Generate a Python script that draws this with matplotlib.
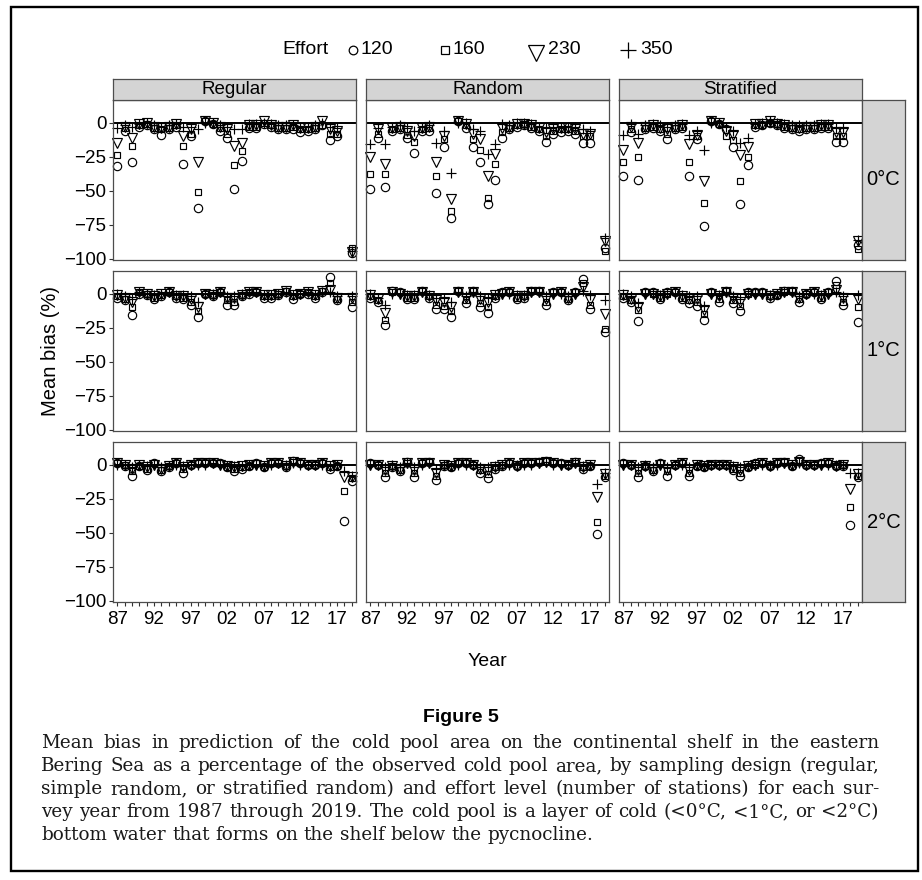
import numpy as np
import matplotlib
matplotlib.use('Agg')
import matplotlib.pyplot as plt
from matplotlib.lines import Line2D
from matplotlib.patches import Rectangle

nan = float('nan')
years = list(range(1987, 2020))
designs = ['Regular', 'Random', 'Stratified']
temps = ['0°C', '1°C', '2°C']
efforts = ['120', '160', '230', '350']
xtick_years = [1987, 1992, 1997, 2002, 2007, 2012, 2017]
xtick_labels = ['87', '92', '97', '02', '07', '12', '17']
ytick_values = [0, -25, -50, -75, -100]
ytick_labels = ['0', '−25', '−50', '−75', '−100']

# ---- 0°C ----
c0_regular_120 = [-32, -6, -29, -3, -2, -5, -9, -5, -3, -30, -10, -63, 1, -1, -6, -11, -49, -28, -4, -4, -1, -3, -5, -5, -5, -7, -6, -5, -2, -13, -10, nan, -96]
c0_regular_160 = [-24, -4, -17, -2, -1, -4, -5, -4, -2, -17, -8, -51, 1, -1, -4, -8, -31, -21, -3, -3, 0, -2, -4, -4, -3, -5, -5, -4, -2, -8, -8, nan, -92]
c0_regular_230 = [-15, -3, -11, -1, 0, -3, -4, -3, -1, -10, -5, -29, 1, 0, -3, -5, -17, -15, -2, -2, 1, -2, -3, -3, -2, -4, -4, -3, 1, -5, -6, nan, -95]
c0_regular_350 = [-4, -2, -3, -1, 0, -2, -3, -2, -1, -3, -3, -5, 0, 0, -2, -3, -5, -5, -1, -1, 0, -1, -2, -2, -2, -3, -3, -2, 0, -3, -4, nan, -94]

c0_random_120 = [-49, -11, -47, -6, -5, -11, -22, -6, -6, -52, -18, -70, 1, -4, -18, -29, -60, -42, -11, -5, -3, -2, -4, -6, -14, -8, -7, -6, -8, -15, -15, nan, -92]
c0_random_160 = [-38, -8, -38, -5, -4, -9, -14, -5, -4, -39, -12, -65, 1, -2, -12, -20, -55, -30, -7, -4, -2, -1, -3, -5, -10, -6, -5, -5, -6, -10, -10, nan, -94]
c0_random_230 = [-25, -5, -30, -4, -3, -6, -10, -4, -3, -29, -10, -56, 1, -1, -8, -12, -39, -23, -4, -3, -1, -1, -2, -4, -7, -5, -4, -4, -5, -8, -8, nan, -87]
c0_random_350 = [-16, -4, -16, -3, -2, -4, -6, -3, -2, -15, -6, -37, 0, 0, -5, -6, -23, -16, -1, -2, 0, 0, -1, -3, -4, -3, -3, -3, -3, -5, -6, nan, -85]

c0_stratified_120 = [-39, -7, -42, -5, -4, -6, -12, -5, -4, -39, -12, -76, 1, -1, -5, -18, -60, -31, -3, -2, 0, -2, -4, -5, -6, -5, -5, -4, -4, -14, -14, nan, -90]
c0_stratified_160 = [-29, -5, -25, -4, -3, -5, -8, -4, -3, -29, -10, -59, 1, -1, -10, -13, -43, -25, -2, -2, 0, -1, -3, -4, -5, -4, -4, -3, -3, -10, -10, nan, -93]
c0_stratified_230 = [-20, -3, -15, -3, -2, -4, -5, -3, -2, -16, -9, -43, 1, 0, -6, -9, -24, -18, -1, -1, 1, -1, -2, -3, -4, -3, -3, -2, -2, -7, -7, nan, -87]
c0_stratified_350 = [-9, -1, -8, -2, -1, -2, -3, -2, -1, -9, -6, -20, 0, 0, -3, -6, -15, -11, -1, 0, 1, 0, -1, -2, -2, -2, -2, -1, -1, -4, -4, nan, -86]

# ---- 1°C ----
c1_regular_120 = [-3, -5, -16, 0, -1, -4, -2, 1, -3, -4, -8, -17, 0, -2, 1, -8, -8, -2, 0, 1, -3, -3, -1, 1, -4, 0, 0, -3, 1, 12, -5, nan, -10]
c1_regular_160 = [-2, -4, -10, 1, 0, -3, -1, 1, -2, -3, -6, -13, 0, -1, 1, -5, -6, -1, 1, 1, -2, -2, 0, 2, -2, 0, 1, -2, 2, 8, -4, nan, -6]
c1_regular_230 = [-1, -3, -6, 1, 0, -2, 0, 1, -2, -2, -4, -10, 0, -1, 1, -3, -3, -1, 1, 1, -1, -1, 0, 2, -1, 0, 1, -1, 2, 3, -3, nan, -3]
c1_regular_350 = [0, -2, -4, 1, 0, -1, 0, 1, -1, -1, -2, -6, 0, 0, 1, -2, -2, 0, 1, 1, -1, -1, 0, 1, -1, 0, 1, -1, 1, 1, -2, nan, -2]

c1_random_120 = [-3, -6, -23, 2, 1, -4, -4, 2, -3, -11, -11, -17, 2, -7, 2, -10, -14, -3, 1, 1, -4, -3, 2, 2, -8, 1, 1, -5, 1, 11, -11, nan, -28]
c1_random_160 = [-2, -5, -19, 1, 1, -3, -3, 2, -2, -8, -9, -13, 2, -5, 2, -7, -10, -2, 1, 1, -3, -2, 2, 2, -6, 1, 1, -4, 1, 8, -8, nan, -26]
c1_random_230 = [-1, -4, -14, 1, 0, -2, -2, 1, -2, -5, -6, -10, 1, -3, 1, -4, -6, -1, 0, 1, -2, -2, 1, 1, -4, 0, 1, -3, 0, 5, -5, nan, -15]
c1_random_350 = [0, -3, -8, 0, 0, -1, -1, 1, -1, -3, -3, -6, 1, -2, 1, -2, -3, -1, 0, 0, -1, -1, 1, 1, -2, 0, 0, -2, 0, 2, -1, nan, -5]

c1_stratified_120 = [-3, -6, -20, 1, 1, -4, 1, 1, -4, -7, -9, -19, 1, -6, 2, -7, -13, 1, 1, 1, -3, -1, 2, 2, -6, 0, 1, -4, 1, 9, -8, nan, -21]
c1_stratified_160 = [-2, -5, -12, 1, 0, -3, 0, 1, -3, -5, -6, -15, 1, -4, 2, -5, -9, 0, 1, 1, -2, -1, 1, 2, -4, 0, 1, -3, 1, 6, -6, nan, -10]
c1_stratified_230 = [-1, -4, -10, 0, 0, -2, 0, 1, -2, -4, -4, -12, 0, -2, 1, -3, -6, 0, 0, 0, -2, 0, 1, 1, -3, 0, 1, -2, 0, 3, -3, nan, -4]
c1_stratified_350 = [0, -2, -7, 0, 0, -1, 0, 0, -1, -2, -2, -9, 0, -1, 1, -2, -4, 0, 0, 0, -1, 0, 1, 1, -2, 0, 0, -1, 0, 1, -2, nan, -1]

# ---- 2°C ----
c2_regular_120 = [1, -1, -8, -1, -4, 1, -5, -2, 1, -6, 0, 1, 1, 1, 1, -2, -5, -3, -1, 1, -2, 1, 1, -2, 3, 1, 0, 0, 1, -3, -1, -41, -12]
c2_regular_160 = [1, 0, -5, -1, -3, 1, -4, -1, 1, -3, 0, 1, 1, 1, 1, -2, -3, -2, -1, 1, -2, 1, 1, -1, 2, 1, 0, 0, 1, -2, -1, -19, -10]
c2_regular_230 = [1, 0, -3, 0, -2, 0, -3, -1, 1, -2, 0, 1, 1, 1, 0, -1, -2, -1, 0, 0, -1, 1, 1, -1, 2, 1, 0, 0, 1, -1, 0, -9, -9]
c2_regular_350 = [0, 0, -2, 0, -1, 0, -2, -1, 0, -1, 0, 0, 0, 1, 0, -1, -1, -1, 0, 0, -1, 0, 1, 0, 1, 0, 0, 0, 0, -1, 0, -5, -8]

c2_random_120 = [1, 0, -9, -2, -5, 2, -9, 1, 2, -11, -1, -2, 1, 1, 0, -6, -10, -3, -1, 1, -1, 1, 1, 2, 3, 1, 1, 0, 2, -3, -1, -51, -9]
c2_random_160 = [1, 0, -6, -1, -4, 1, -6, 1, 2, -8, 0, -2, 1, 1, 0, -4, -7, -2, 0, 1, -1, 1, 1, 2, 3, 1, 1, 0, 1, -2, -1, -42, -8]
c2_random_230 = [0, 0, -4, -1, -3, 1, -4, 1, 1, -6, 0, -1, 1, 1, 0, -3, -4, -2, 0, 1, -1, 1, 1, 1, 2, 1, 0, 0, 1, -2, 0, -24, -7]
c2_random_350 = [0, 0, -2, 0, -2, 1, -2, 0, 1, -3, 0, -1, 0, 0, 0, -2, -2, -1, 0, 0, 0, 0, 0, 1, 2, 0, 0, 0, 1, -1, 0, -14, -6]

c2_stratified_120 = [1, 0, -9, -1, -5, 1, -8, 0, 1, -8, -1, -2, 0, 0, 0, -4, -8, -2, 1, 1, -1, 1, 2, -1, 4, 0, 0, 1, 1, -1, -1, -44, -9]
c2_stratified_160 = [1, 0, -6, -1, -4, 1, -5, 0, 1, -6, -1, -2, 0, 0, 0, -3, -6, -2, 0, 1, -1, 1, 2, -1, 3, 0, 0, 1, 1, -1, 0, -31, -8]
c2_stratified_230 = [0, 0, -4, -1, -3, 0, -4, 0, 1, -4, 0, -1, 0, 0, 0, -2, -4, -1, 0, 1, -1, 1, 1, 0, 2, 0, 0, 0, 1, -1, 0, -18, -7]
c2_stratified_350 = [0, 0, -2, 0, -2, 0, -2, 0, 0, -2, 0, -1, 0, 0, 0, -1, -2, -1, 0, 0, 0, 0, 1, 0, 1, 0, 0, 0, 0, 0, 0, -6, -6]

caption_title = 'Figure 5'
caption_lines = [
    'Mean bias in prediction of the cold pool area on the continental shelf in the eastern',
    'Bering Sea as a percentage of the observed cold pool area, by sampling design (regular,',
    'simple random, or stratified random) and effort level (number of stations) for each sur-',
    'vey year from 1987 through 2019. The cold pool is a layer of cold (<0°C, <1°C, or <2°C)',
    'bottom water that forms on the shelf below the pycnocline.',
]

panel_data = {
    ('0°C', 'Regular'): [c0_regular_120, c0_regular_160, c0_regular_230, c0_regular_350],
    ('0°C', 'Random'): [c0_random_120, c0_random_160, c0_random_230, c0_random_350],
    ('0°C', 'Stratified'): [c0_stratified_120, c0_stratified_160, c0_stratified_230, c0_stratified_350],
    ('1°C', 'Regular'): [c1_regular_120, c1_regular_160, c1_regular_230, c1_regular_350],
    ('1°C', 'Random'): [c1_random_120, c1_random_160, c1_random_230, c1_random_350],
    ('1°C', 'Stratified'): [c1_stratified_120, c1_stratified_160, c1_stratified_230, c1_stratified_350],
    ('2°C', 'Regular'): [c2_regular_120, c2_regular_160, c2_regular_230, c2_regular_350],
    ('2°C', 'Random'): [c2_random_120, c2_random_160, c2_random_230, c2_random_350],
    ('2°C', 'Stratified'): [c2_stratified_120, c2_stratified_160, c2_stratified_230, c2_stratified_350],
}

# ---------------- styling / layout ----------------
W, H = 922, 880
plt.rcParams['font.family'] = ['Liberation Sans', 'DejaVu Sans']
fig = plt.figure(figsize=(W / 100, H / 100), dpi=100)
fig.patch.set_facecolor('white')

def fx(px):
    return px / W

def fy(py):
    return 1 - py / H

marker_style = {
    '120': dict(marker='o', ms=6.0),
    '160': dict(marker='s', ms=5.0),
    '230': dict(marker='v', ms=6.8),
    '350': dict(marker='+', ms=7.2),
}
legend_ms = {'120': 6.2, '160': 5.2, '230': 11.5, '350': 11.5}
legend_x = [353, 445, 536, 628]
legend_dy = {'120': 0, '160': 0, '230': 3, '350': 0}
legend_gap = {'120': 7, '160': 7, '230': 12, '350': 12}

col_left = [113, 366, 619]
row_top = [100, 271, 442]
pw, ph = 243, 160
border_col = '#4d4d4d'
strip_fill = '#d4d4d4'
fs_tick = 13.5
fs_strip = 13.5

for r, temp in enumerate(temps):
    for c, design in enumerate(designs):
        ax = fig.add_axes([fx(col_left[c]), fy(row_top[r] + ph), pw / W, ph / H])
        ax.set_xlim(1986.4, 2019.6)
        ax.set_ylim(-100.8, 16.6)
        ax.axhline(0, color='black', lw=1.4, zorder=1)
        for eff, vals in zip(efforts, panel_data[(temp, design)]):
            st = marker_style[eff]
            ax.plot(years, vals, linestyle='none', marker=st['marker'], ms=st['ms'],
                    mfc='none', mec='black', mew=0.85, zorder=2, clip_on=False)
        for s in ax.spines.values():
            s.set_color(border_col)
            s.set_linewidth(0.9)
            s.set_zorder(3)
        ax.set_yticks(ytick_values)
        ax.set_xticks(years)
        ax.tick_params(axis='both', length=3.2, width=0.8, color='#333333',
                       labelsize=fs_tick, pad=1.5)
        ax.tick_params(axis='x', pad=3.5)
        if c == 0:
            ax.set_yticklabels(ytick_labels)
        else:
            ax.tick_params(axis='y', left=False, labelleft=False)
        if r == len(temps) - 1:
            labs = [xtick_labels[xtick_years.index(y)] if y in xtick_years else '' for y in years]
            ax.set_xticklabels(labs)
        else:
            ax.tick_params(axis='x', bottom=False, labelbottom=False)
        ax.set_facecolor('white')

        # top strip
        if r == 0:
            sax = fig.add_axes([fx(col_left[c]), fy(row_top[0]), pw / W, 21 / H])
            sax.set_facecolor(strip_fill)
            sax.set_xticks([]); sax.set_yticks([])
            for s in sax.spines.values():
                s.set_color(border_col); s.set_linewidth(0.9)
            sax.text(0.5, 0.48, design, ha='center', va='center', fontsize=fs_strip,
                     transform=sax.transAxes)
        # right strip
        if c == len(designs) - 1:
            rax = fig.add_axes([fx(col_left[c] + pw), fy(row_top[r] + ph), 43 / W, ph / H])
            rax.set_facecolor(strip_fill)
            rax.set_xticks([]); rax.set_yticks([])
            for s in rax.spines.values():
                s.set_color(border_col); s.set_linewidth(0.9)
            rax.text(0.5, 0.5, temp, ha='center', va='center', fontsize=14.5,
                     transform=rax.transAxes)

# axis titles
fig.text(fx(51), fy(351), 'Mean bias (%)', rotation=90, ha='center', va='center', fontsize=14.5)
fig.text(fx(487), fy(661), 'Year', ha='center', va='center', fontsize=14)

# legend
fig.text(fx(282), fy(50), 'Effort', ha='left', va='center', fontsize=14)
for eff, xm in zip(efforts, legend_x):
    st = marker_style[eff]
    fig.add_artist(Line2D([fx(xm)], [fy(50 + legend_dy[eff])], transform=fig.transFigure,
                          linestyle='none', marker=st['marker'], ms=legend_ms[eff],
                          mfc='none', mec='black', mew=0.9))
    fig.text(fx(xm + legend_gap[eff]), fy(50), eff, ha='left', va='center', fontsize=14)

# outer frame
fig.add_artist(Rectangle((fx(10.5), fy(871)), (917.5 - 10.5) / W, (871 - 7.5) / H,
                         transform=fig.transFigure, fill=False, lw=1.7, ec='black'))

# caption
fig.text(fx(461), fy(717), caption_title, ha='center', va='center', fontsize=14,
         fontweight='bold', family=['Liberation Sans', 'DejaVu Sans'])

renderer = fig.canvas.get_renderer()
x_left, x_right = 41, 879
baselines = [748, 771, 794, 817, 840]
cap_family = ['DejaVu Serif']

def natural_width(size):
    widest = 0
    for line in caption_lines:
        t = fig.text(0, 0, line, fontsize=size, family=cap_family)
        widest = max(widest, t.get_window_extent(renderer).width)
        t.remove()
    return widest

cap_size = 15.0
while natural_width(cap_size) > (x_right - x_left) - 4 and cap_size > 8:
    cap_size -= 0.1

for i, (line, yb) in enumerate(zip(caption_lines, baselines)):
    words = line.split(' ')
    texts = [fig.text(0, fy(yb), w, fontsize=cap_size, family=cap_family,
                      va='baseline', ha='left', color='#1a1a1a') for w in words]
    widths = [t.get_window_extent(renderer).width for t in texts]
    if i < len(caption_lines) - 1:
        gap = ((x_right - x_left) - sum(widths)) / (len(words) - 1)
    else:
        sp = fig.text(0, 0, 'a a', fontsize=cap_size, family=cap_family)
        sp2 = fig.text(0, 0, 'aa', fontsize=cap_size, family=cap_family)
        gap = sp.get_window_extent(renderer).width - sp2.get_window_extent(renderer).width
        sp.remove(); sp2.remove()
    x = x_left
    for t, w in zip(texts, widths):
        t.set_x(fx(x))
        x += w + gap

fig.savefig('out.png', dpi=100, facecolor='white')
